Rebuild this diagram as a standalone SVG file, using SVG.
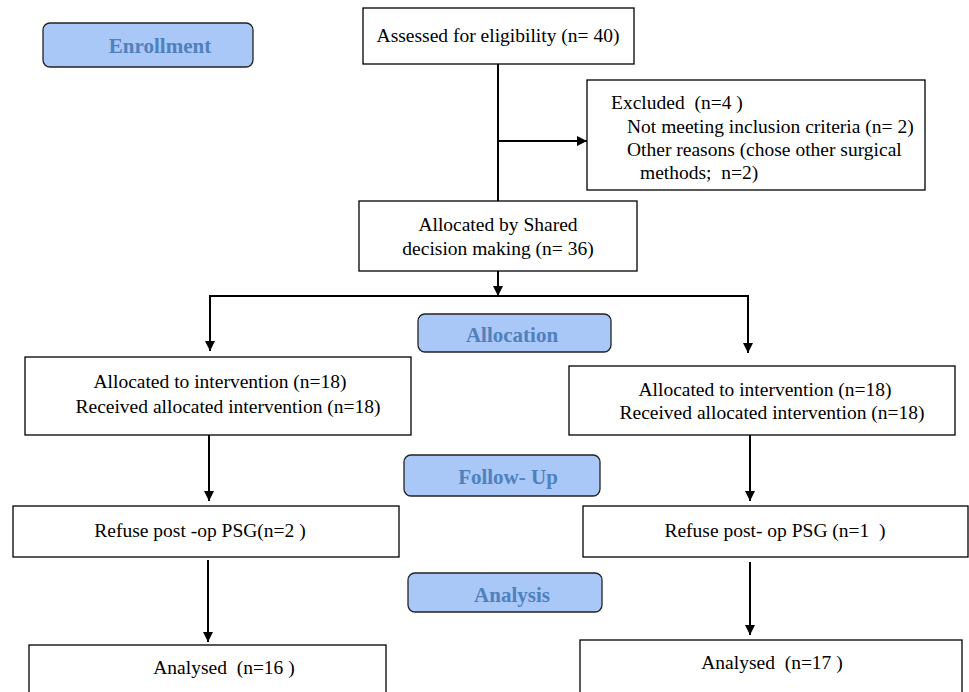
<svg xmlns="http://www.w3.org/2000/svg" width="969" height="692" viewBox="0 0 969 692">
<defs>
<marker id="ah" viewBox="0 0 10 10" refX="10" refY="5" markerWidth="10" markerHeight="10" orient="auto" markerUnits="userSpaceOnUse">
<path d="M0,0 L10,5 L0,10 z" fill="#000"/>
</marker>
<style>
.box{fill:#fff;stroke:#000;stroke-width:1.3}
.lab{fill:#A9C7F7;stroke:#222;stroke-width:1.3}
.t{font-family:'Liberation Serif','Times New Roman',Tinos,'DejaVu Serif',serif;font-size:19.5px;fill:#000;white-space:pre}
.lt{font-family:'Liberation Serif','Times New Roman',Tinos,'DejaVu Serif',serif;font-size:21px;font-weight:bold;fill:#4F81BD;text-anchor:middle}
.c{fill:none;stroke:#000;stroke-width:2}
.m{text-anchor:middle}
</style>
</defs>
<rect width="969" height="692" fill="#fff"/>
<g id="connectors">
<line class="c" x1="498" y1="64" x2="498" y2="201"/>
<line class="c" x1="498" y1="141" x2="587" y2="141" marker-end="url(#ah)"/>
<line class="c" x1="498" y1="271" x2="498" y2="296" marker-end="url(#ah)"/>
<polyline class="c" points="210,340 210,296 748,296 748,340"/>
<line class="c" x1="210" y1="320" x2="210" y2="351" marker-end="url(#ah)"/>
<line class="c" x1="748" y1="320" x2="748" y2="353" marker-end="url(#ah)"/>
<line class="c" x1="209" y1="435" x2="209" y2="501" marker-end="url(#ah)"/>
<line class="c" x1="750" y1="435" x2="750" y2="501" marker-end="url(#ah)"/>
<line class="c" x1="208" y1="560" x2="208" y2="642" marker-end="url(#ah)"/>
<line class="c" x1="750" y1="562" x2="750" y2="635" marker-end="url(#ah)"/>
</g>
<g id="enrollment">
<rect class="lab" x="43" y="23" width="210" height="44" rx="7"/>
<text class="lt" x="160" y="53">Enrollment</text>
</g>
<g id="assessed">
<rect class="box" x="363" y="8" width="271" height="56"/>
<text class="t m" x="498" y="42" xml:space="preserve">Assessed for eligibility (n= 40)</text>
</g>
<g id="excluded">
<rect class="box" x="587" y="80" width="338" height="110"/>
<text class="t" x="611" y="109" xml:space="preserve">Excluded  (n=4 )</text>
<text class="t" x="627" y="133">Not meeting inclusion criteria (n= 2)</text>
<text class="t" x="627" y="156">Other reasons (chose other surgical</text>
<text class="t" x="640" y="179" xml:space="preserve">methods;  n=2)</text>
</g>
<g id="allocated">
<rect class="box" x="359" y="201" width="278" height="70"/>
<text class="t m" x="498" y="231">Allocated by Shared</text>
<text class="t m" x="498" y="255">decision making (n= 36)</text>
</g>
<g id="allocation">
<rect class="lab" x="418" y="314" width="193" height="38" rx="7"/>
<text class="lt" x="512" y="342">Allocation</text>
</g>
<g id="left-intervention">
<rect class="box" x="25" y="357" width="386" height="78"/>
<text class="t m" x="220" y="388">Allocated to intervention (n=18)</text>
<text class="t m" x="228" y="413">Received allocated intervention (n=18)</text>
</g>
<g id="right-intervention">
<rect class="box" x="569" y="366" width="386" height="69"/>
<text class="t m" x="765" y="396">Allocated to intervention (n=18)</text>
<text class="t m" x="772" y="419">Received allocated intervention (n=18)</text>
</g>
<g id="followup">
<rect class="lab" x="404" y="455" width="196" height="41" rx="7"/>
<text class="lt" x="508" y="484">Follow- Up</text>
</g>
<g id="left-refuse">
<rect class="box" x="13" y="506" width="386" height="51"/>
<text class="t m" x="200" y="537">Refuse post -op PSG(n=2 )</text>
</g>
<g id="right-refuse">
<rect class="box" x="583" y="506" width="385" height="51"/>
<text class="t m" x="775" y="537" xml:space="preserve">Refuse post- op PSG (n=1  )</text>
</g>
<g id="analysis">
<rect class="lab" x="408" y="573" width="194" height="39" rx="7"/>
<text class="lt" x="512" y="602">Analysis</text>
</g>
<g id="left-analysed">
<rect class="box" x="29" y="645" width="357" height="60"/>
<text class="t m" x="224" y="674" xml:space="preserve">Analysed  (n=16 )</text>
</g>
<g id="right-analysed">
<rect class="box" x="580" y="640" width="382" height="65"/>
<text class="t m" x="772" y="669" xml:space="preserve">Analysed  (n=17 )</text>
</g>
</svg>
